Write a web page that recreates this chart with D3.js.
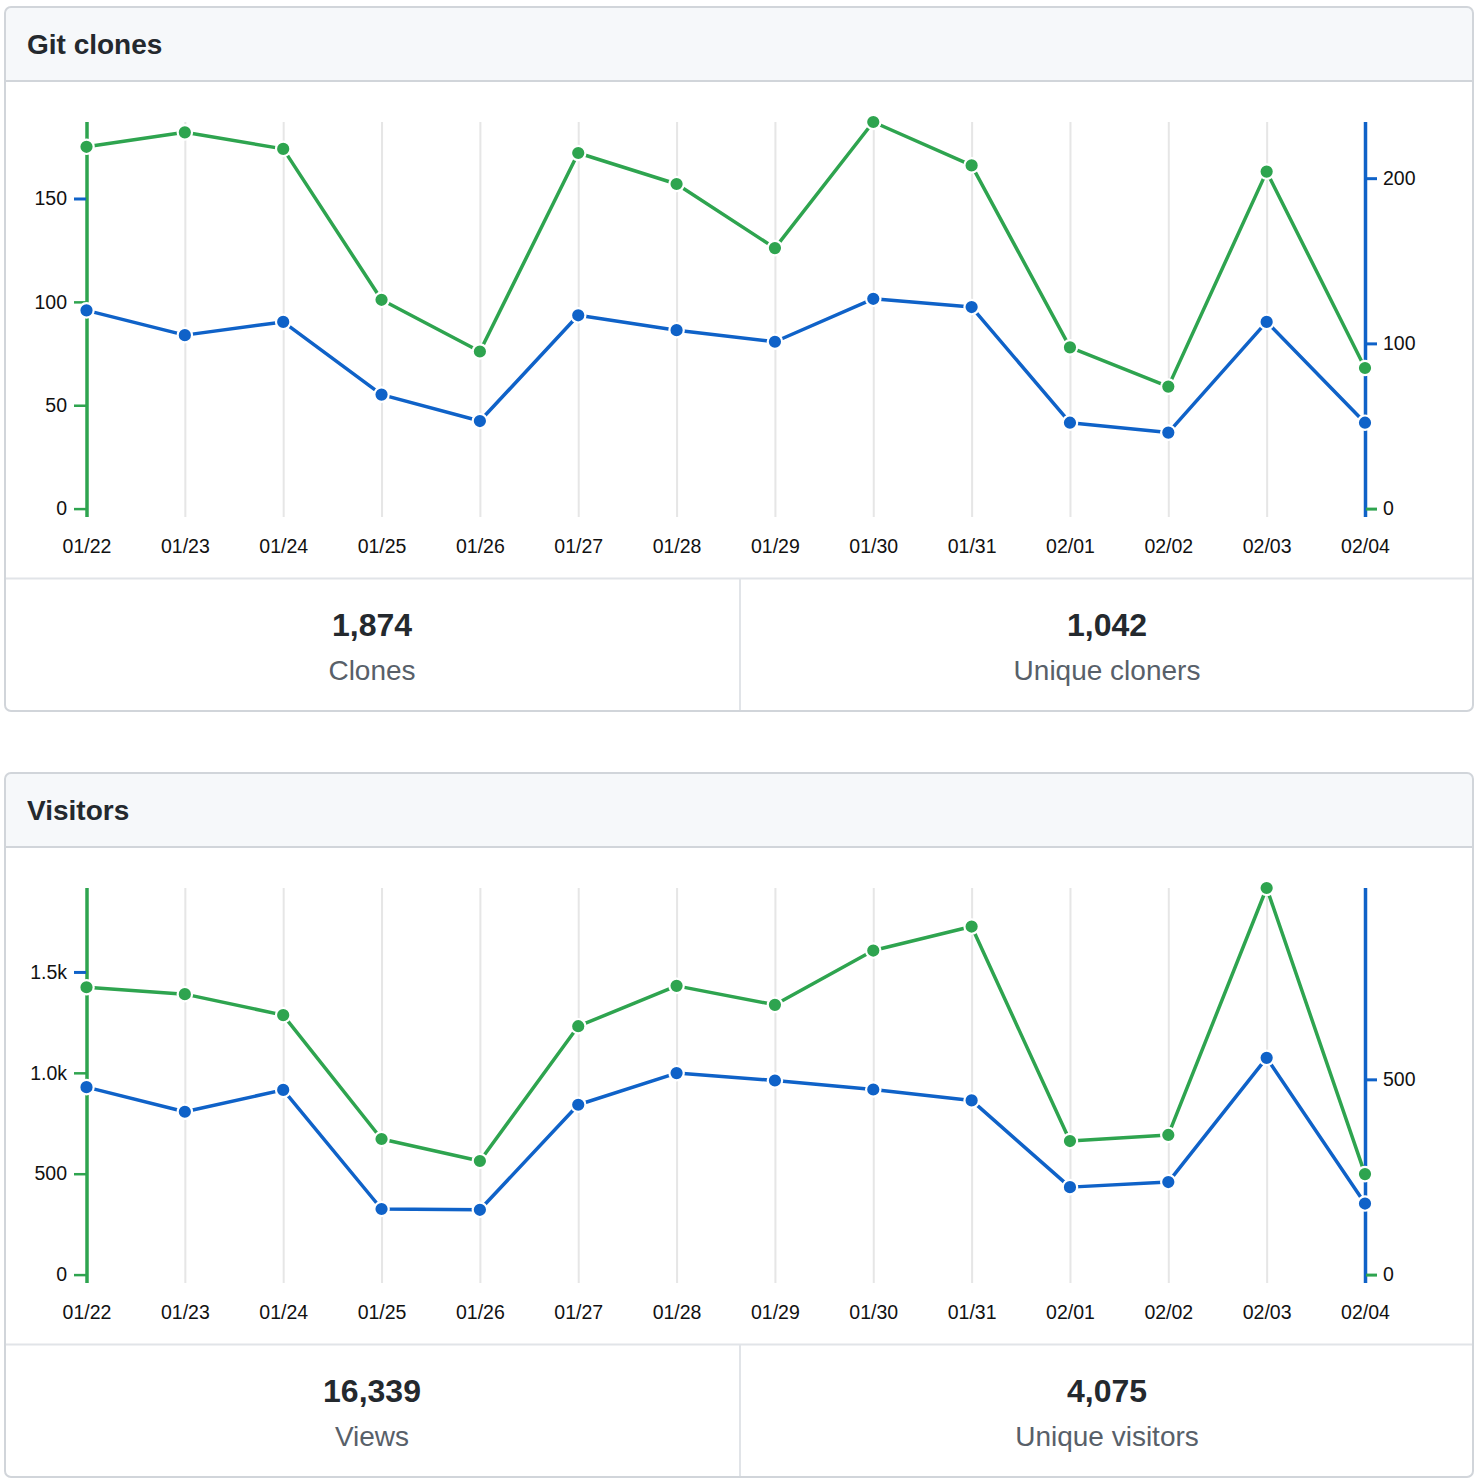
<!DOCTYPE html>
<html lang="en">
<head>
<meta charset="UTF-8">
<title>Traffic</title>
<script src="https://d3js.org/d3.v7.min.js"></script>
<style>
  body { margin: 0; background: #fff; font-family: 'Liberation Sans', Arial, Helvetica, sans-serif; }
  svg { display: block; }
</style>
</head>
<body>
<svg id="chart" width="1478" height="1484"></svg>
<script>
// ---- data ----
const dates = ["01/22", "01/23", "01/24", "01/25", "01/26", "01/27", "01/28",
               "01/29", "01/30", "01/31", "02/01", "02/02", "02/03", "02/04"];

const clones = [175, 182, 174, 101, 76, 172, 157, 126, 187, 166, 78, 59, 163, 68];
const uniqueCloners = [120, 105, 113, 69, 53, 117, 108, 101, 127, 122, 52, 46, 113, 52];
const clonesLeftTicks = [0, 50, 100, 150];
const clonesRightTicks = [0, 100, 200];
const clonesRightMax = 234;

const views = [1424, 1390, 1286, 672, 563, 1231, 1431, 1337, 1606, 1725, 662, 692, 1916, 498];
const uniqueVisitors = [480, 417, 473, 168, 166, 435, 516, 497, 474, 446, 224, 237, 555, 182];
const viewsLeftTicks = [0, 500, 1000, 1500];
const viewsRightTicks = [0, 500];
const viewsRightMax = 990;

const totals = ["1,874", "1,042", "16,339", "4,075"];
const totalLabels = ["Clones", "Unique cloners", "Views", "Unique visitors"];

// ---- styles ----
const GREEN = "#2ea44f", BLUE = "#0f62c8", BORDER = "#d1d5da", GRID = "#e6e6e6";

const svg = d3.select("#chart");

const x = d3.scalePoint().domain(dates).range([86.5, 1365]);

function kFormat(d) {
    return d >= 1000 ? d3.format(".1f")(d / 1000) + "k" : String(d);
}

function drawPanel(top, title, total, unique, leftTicks, rightTicks, rightMax, stats) {
    const g = svg.append("g").attr("transform", `translate(0,${top})`);
    const clipId = "clip" + top;

    g.append("clipPath").attr("id", clipId)
        .append("rect").attr("x", 5).attr("y", 0).attr("width", 1468).attr("height", 704).attr("rx", 6);

    g.append("rect")
        .attr("x", 5).attr("y", 0).attr("width", 1468).attr("height", 704).attr("rx", 6)
        .attr("fill", "#fff");

    // header
    g.append("rect")
        .attr("clip-path", `url(#${clipId})`)
        .attr("x", 5).attr("y", 0).attr("width", 1468).attr("height", 74)
        .attr("fill", "#f6f8fa");
    g.append("line").attr("x1", 5).attr("x2", 1473).attr("y1", 74).attr("y2", 74)
        .attr("stroke", BORDER).attr("stroke-width", 2);
    g.append("text")
        .attr("x", 27).attr("y", 47)
        .attr("font-size", 28).attr("font-weight", "bold").attr("fill", "#24292e")
        .text(title);

    // stats row
    g.append("line").attr("x1", 5).attr("x2", 1473).attr("y1", 571.5).attr("y2", 571.5)
        .attr("stroke", "#e1e4e8").attr("stroke-width", 2);
    g.append("line").attr("x1", 740).attr("x2", 740).attr("y1", 571.5).attr("y2", 704)
        .attr("stroke", "#e1e4e8").attr("stroke-width", 2);
    [372, 1107].forEach((cx, i) => {
        g.append("text").attr("x", cx).attr("y", 629).attr("text-anchor", "middle")
            .attr("font-size", 32).attr("font-weight", "bold").attr("fill", "#24292e")
            .text(stats[i][0]);
        g.append("text").attr("x", cx).attr("y", 673).attr("text-anchor", "middle")
            .attr("font-size", 28).attr("fill", "#586069")
            .text(stats[i][1]);
    });

    // outer border on top
    g.append("rect")
        .attr("x", 5).attr("y", 0).attr("width", 1468).attr("height", 704).attr("rx", 6)
        .attr("fill", "none").attr("stroke", BORDER).attr("stroke-width", 2);

    // scales
    const yTop = 115, yZero = 501.6, xAxisY = 510;
    const yL = d3.scaleLinear().domain([0, d3.max(total)]).range([yZero, yTop]);
    const yR = d3.scaleLinear().domain([0, rightMax]).range([yZero, yTop]);

    // x axis with gridlines
    const xAxis = g.append("g")
        .attr("transform", `translate(0,${xAxisY})`)
        .call(d3.axisBottom(x).tickSize(-(xAxisY - yTop)).tickSizeOuter(0));
    xAxis.select(".domain").remove();
    xAxis.selectAll(".tick line")
        .attr("stroke", (d, i) => i === 0 ? GREEN : i === dates.length - 1 ? BLUE : GRID)
        .attr("stroke-width", (d, i) => i === 0 || i === dates.length - 1 ? 3.5 : 2);
    xAxis.selectAll(".tick text")
        .attr("y", 36).attr("dy", null)
        .attr("font-size", 19.5).attr("font-family", "'Liberation Sans', Arial, sans-serif")
        .attr("fill", "#111");

    // left axis
    const leftAxis = g.append("g")
        .attr("transform", "translate(86,0)")
        .call(d3.axisLeft(yL).tickValues(leftTicks).tickFormat(kFormat).tickSize(12).tickPadding(7));
    leftAxis.select(".domain").remove();
    leftAxis.selectAll(".tick line")
        .attr("stroke", (d, i) => i === leftTicks.length - 1 ? BLUE : GREEN)
        .attr("stroke-width", (d, i) => i === leftTicks.length - 1 ? 3 : 2.5);
    leftAxis.selectAll(".tick text")
        .attr("font-size", 19.5).attr("font-family", "'Liberation Sans', Arial, sans-serif")
        .attr("fill", "#111");

    // right axis
    const rightAxis = g.append("g")
        .attr("transform", "translate(1366,0)")
        .call(d3.axisRight(yR).tickValues(rightTicks).tickSize(11).tickPadding(6));
    rightAxis.select(".domain").remove();
    rightAxis.selectAll(".tick line")
        .attr("stroke", (d, i) => i === 0 ? GREEN : BLUE)
        .attr("stroke-width", 3);
    rightAxis.selectAll(".tick text")
        .attr("font-size", 19.5).attr("font-family", "'Liberation Sans', Arial, sans-serif")
        .attr("fill", "#111");

    // lines and dots
    const series = [
        { values: total, scale: yL, color: GREEN },
        { values: unique, scale: yR, color: BLUE }
    ];
    series.forEach(s => {
        const line = d3.line()
            .x((d, i) => x(dates[i]))
            .y(d => s.scale(d));
        g.append("path")
            .datum(s.values)
            .attr("fill", "none")
            .attr("stroke", s.color)
            .attr("stroke-width", 3.5)
            .attr("stroke-linejoin", "round")
            .attr("d", line);
    });
    series.forEach(s => {
        g.append("g").selectAll("circle")
            .data(s.values)
            .join("circle")
            .attr("cx", (d, i) => x(dates[i]))
            .attr("cy", d => s.scale(d))
            .attr("r", 7.2)
            .attr("fill", s.color)
            .attr("stroke", "#fff")
            .attr("stroke-width", 2.2);
    });
}

drawPanel(7, "Git clones", clones, uniqueCloners, clonesLeftTicks, clonesRightTicks, clonesRightMax,
    [[totals[0], totalLabels[0]], [totals[1], totalLabels[1]]]);
drawPanel(773, "Visitors", views, uniqueVisitors, viewsLeftTicks, viewsRightTicks, viewsRightMax,
    [[totals[2], totalLabels[2]], [totals[3], totalLabels[3]]]);
</script>
</body>
</html>
